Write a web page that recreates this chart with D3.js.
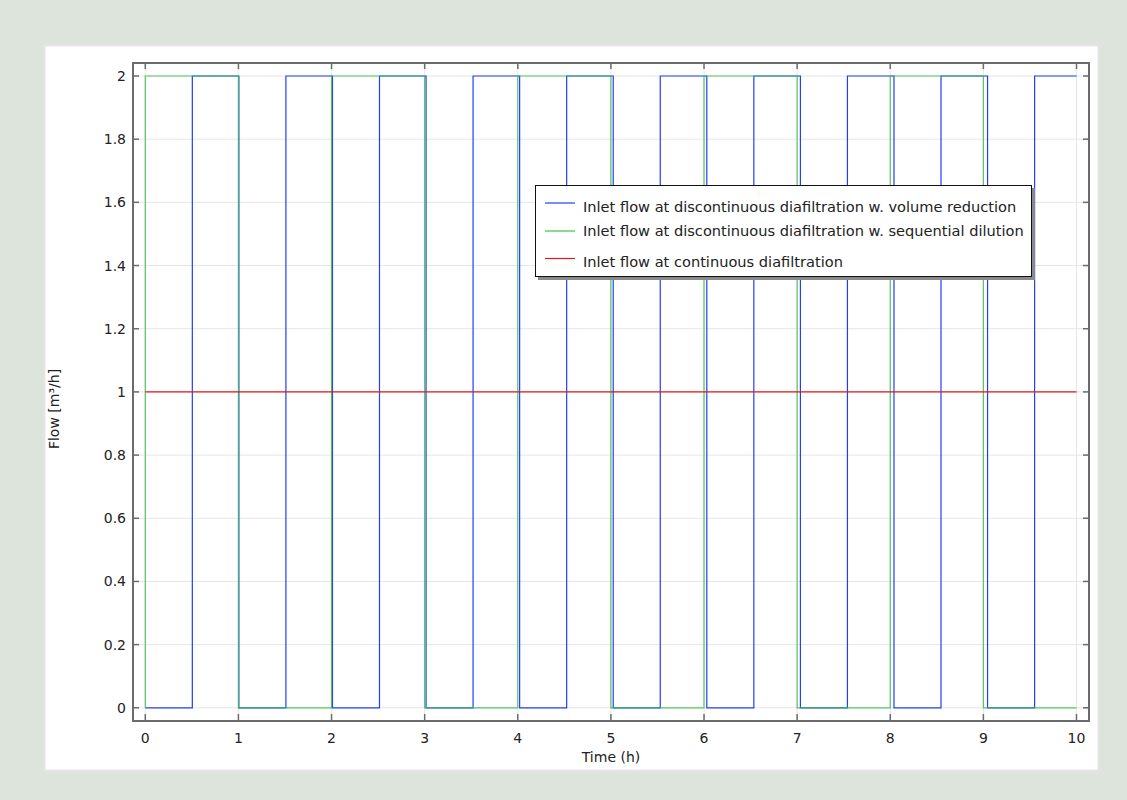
<!DOCTYPE html>
<html>
<head>
<meta charset="utf-8">
<script src="https://cdn.jsdelivr.net/npm/d3@7"></script>
<style>
  html, body { margin: 0; padding: 0; background: #dce4dc; }
  svg { display: block; }
  text { font-family: "DejaVu Sans", sans-serif; fill: #222; }
</style>
</head>
<body>
<script>
// ---- data ----
const xTicks = [0, 1, 2, 3, 4, 5, 6, 7, 8, 9, 10];
const yTicks = [0, 0.2, 0.4, 0.6, 0.8, 1, 1.2, 1.4, 1.6, 1.8, 2];
const yTickLabels = ["0", "0.2", "0.4", "0.6", "0.8", "1", "1.2", "1.4", "1.6", "1.8", "2"];

// volume reduction (blue) step series: times and values (step after)
const blueTimes  = [0, 0.505, 1.005, 1.51, 2.01, 2.515, 3.015, 3.52, 4.02, 4.525, 5.025, 5.53, 6.03, 6.535, 7.035, 7.54, 8.04, 8.545, 9.045, 9.55, 10];
const blueValues = [0, 2,     0,     2,    0,    2,     0,     2,    0,    2,     0,     2,    0,    2,     0,     2,    0,    2,     0,     2,    2];

// sequential dilution (green) step series
const greenTimes  = [0, 0, 1, 2, 3, 4, 5, 6, 7, 8, 9, 10];
const greenValues = [0, 2, 0, 2, 0, 2, 0, 2, 0, 2, 0, 0];

// continuous diafiltration (red)
const redTimes  = [0, 10];
const redValues = [1, 1];

const seriesNames = [
  "Inlet flow at discontinuous diafiltration w. volume reduction",
  "Inlet flow at discontinuous diafiltration w. sequential dilution",
  "Inlet flow at continuous diafiltration"
];
const seriesColors = ["#2040f8", "#3cc048", "#e01818"];

// ---- layout ----
const W = 1127, H = 800;
const frame = {left: 133, top: 63, right: 1089, bottom: 721};

const svg = d3.select("body").append("svg").attr("width", W).attr("height", H);

// white panel
svg.append("rect").attr("x", 44.5).attr("y", 45.5).attr("width", 1054).attr("height", 725)
  .attr("fill", "#fff").attr("stroke", "#e4e6e4").attr("stroke-width", 2);

const x = d3.scaleLinear().domain([0, 10]).range([145.3, 1076.5]);
const y = d3.scaleLinear().domain([0, 2]).range([707.8, 76]);

// grid
const grid = svg.append("g").attr("stroke", "#e6e6e6").attr("stroke-width", 1);
grid.selectAll("line.gy").data(yTicks).enter().append("line")
  .attr("x1", frame.left).attr("x2", frame.right)
  .attr("y1", d => y(d)).attr("y2", d => y(d));
grid.selectAll("line.gx").data(xTicks).enter().append("line")
  .attr("y1", frame.top).attr("y2", frame.bottom)
  .attr("x1", d => x(d)).attr("x2", d => x(d));

// series
function stepData(ts, vs) { return ts.map((t, i) => [t, vs[i]]); }
const line = d3.line().x(d => x(d[0])).y(d => y(d[1])).curve(d3.curveStepAfter);
const plotG = svg.append("g");
[[blueTimes, blueValues, 0], [greenTimes, greenValues, 1], [redTimes, redValues, 2]].forEach(([ts, vs, i]) => {
  plotG.append("path").datum(stepData(ts, vs))
    .attr("d", line).attr("fill", "none")
    .attr("stroke", seriesColors[i]).attr("stroke-width", 1.2)
    .attr("stroke-opacity", i === 1 ? 0.85 : 1);
});

// frame
svg.append("rect").attr("x", frame.left).attr("y", frame.top)
  .attr("width", frame.right - frame.left).attr("height", frame.bottom - frame.top)
  .attr("fill", "none").attr("stroke", "#6b6b6b").attr("stroke-width", 2);

// inner ticks on all sides
const tk = svg.append("g").attr("stroke", "#6b6b6b").attr("stroke-width", 1.5);
xTicks.forEach(t => {
  tk.append("line").attr("x1", x(t)).attr("x2", x(t)).attr("y1", frame.bottom).attr("y2", frame.bottom - 7);
  tk.append("line").attr("x1", x(t)).attr("x2", x(t)).attr("y1", frame.top).attr("y2", frame.top + 6);
});
yTicks.forEach(t => {
  tk.append("line").attr("y1", y(t)).attr("y2", y(t)).attr("x1", frame.left).attr("x2", frame.left + 6);
  tk.append("line").attr("y1", y(t)).attr("y2", y(t)).attr("x1", frame.right).attr("x2", frame.right - 6);
});

// tick labels
svg.append("g").selectAll("text").data(xTicks).enter().append("text")
  .attr("x", d => x(d)).attr("y", 742.5).attr("text-anchor", "middle")
  .attr("font-size", 14).text(d => d);
svg.append("g").selectAll("text").data(yTicks).enter().append("text")
  .attr("x", 126).attr("y", d => y(d) + 5).attr("text-anchor", "end")
  .attr("font-size", 14).text((d, i) => yTickLabels[i]);

// axis titles
svg.append("text").attr("x", (frame.left + frame.right) / 2).attr("y", 762)
  .attr("text-anchor", "middle").attr("font-size", 14).text("Time (h)");
svg.append("text").attr("transform", "translate(59,409) rotate(-90)")
  .attr("text-anchor", "middle").attr("font-size", 14).text("Flow [m³/h]");

// legend
const lg = svg.append("g");
lg.append("rect").attr("x", 538).attr("y", 188).attr("width", 497).attr("height", 92)
  .attr("fill", "#8a8a8a");
lg.append("rect").attr("x", 535.5).attr("y", 185.5).attr("width", 496).attr("height", 91)
  .attr("fill", "#fff").attr("stroke", "#111").attr("stroke-width", 1);
const lineYs = [203, 231, 258.5];
const textYs = [211.5, 235.8, 266.6];
seriesNames.forEach((n, i) => {
  lg.append("line").attr("x1", 545).attr("x2", 575).attr("y1", lineYs[i]).attr("y2", lineYs[i])
    .attr("stroke", seriesColors[i]).attr("stroke-width", 1.2);
  lg.append("text").attr("x", 583).attr("y", textYs[i]).attr("font-size", 14.6).text(n);
});
</script>
</body>
</html>
